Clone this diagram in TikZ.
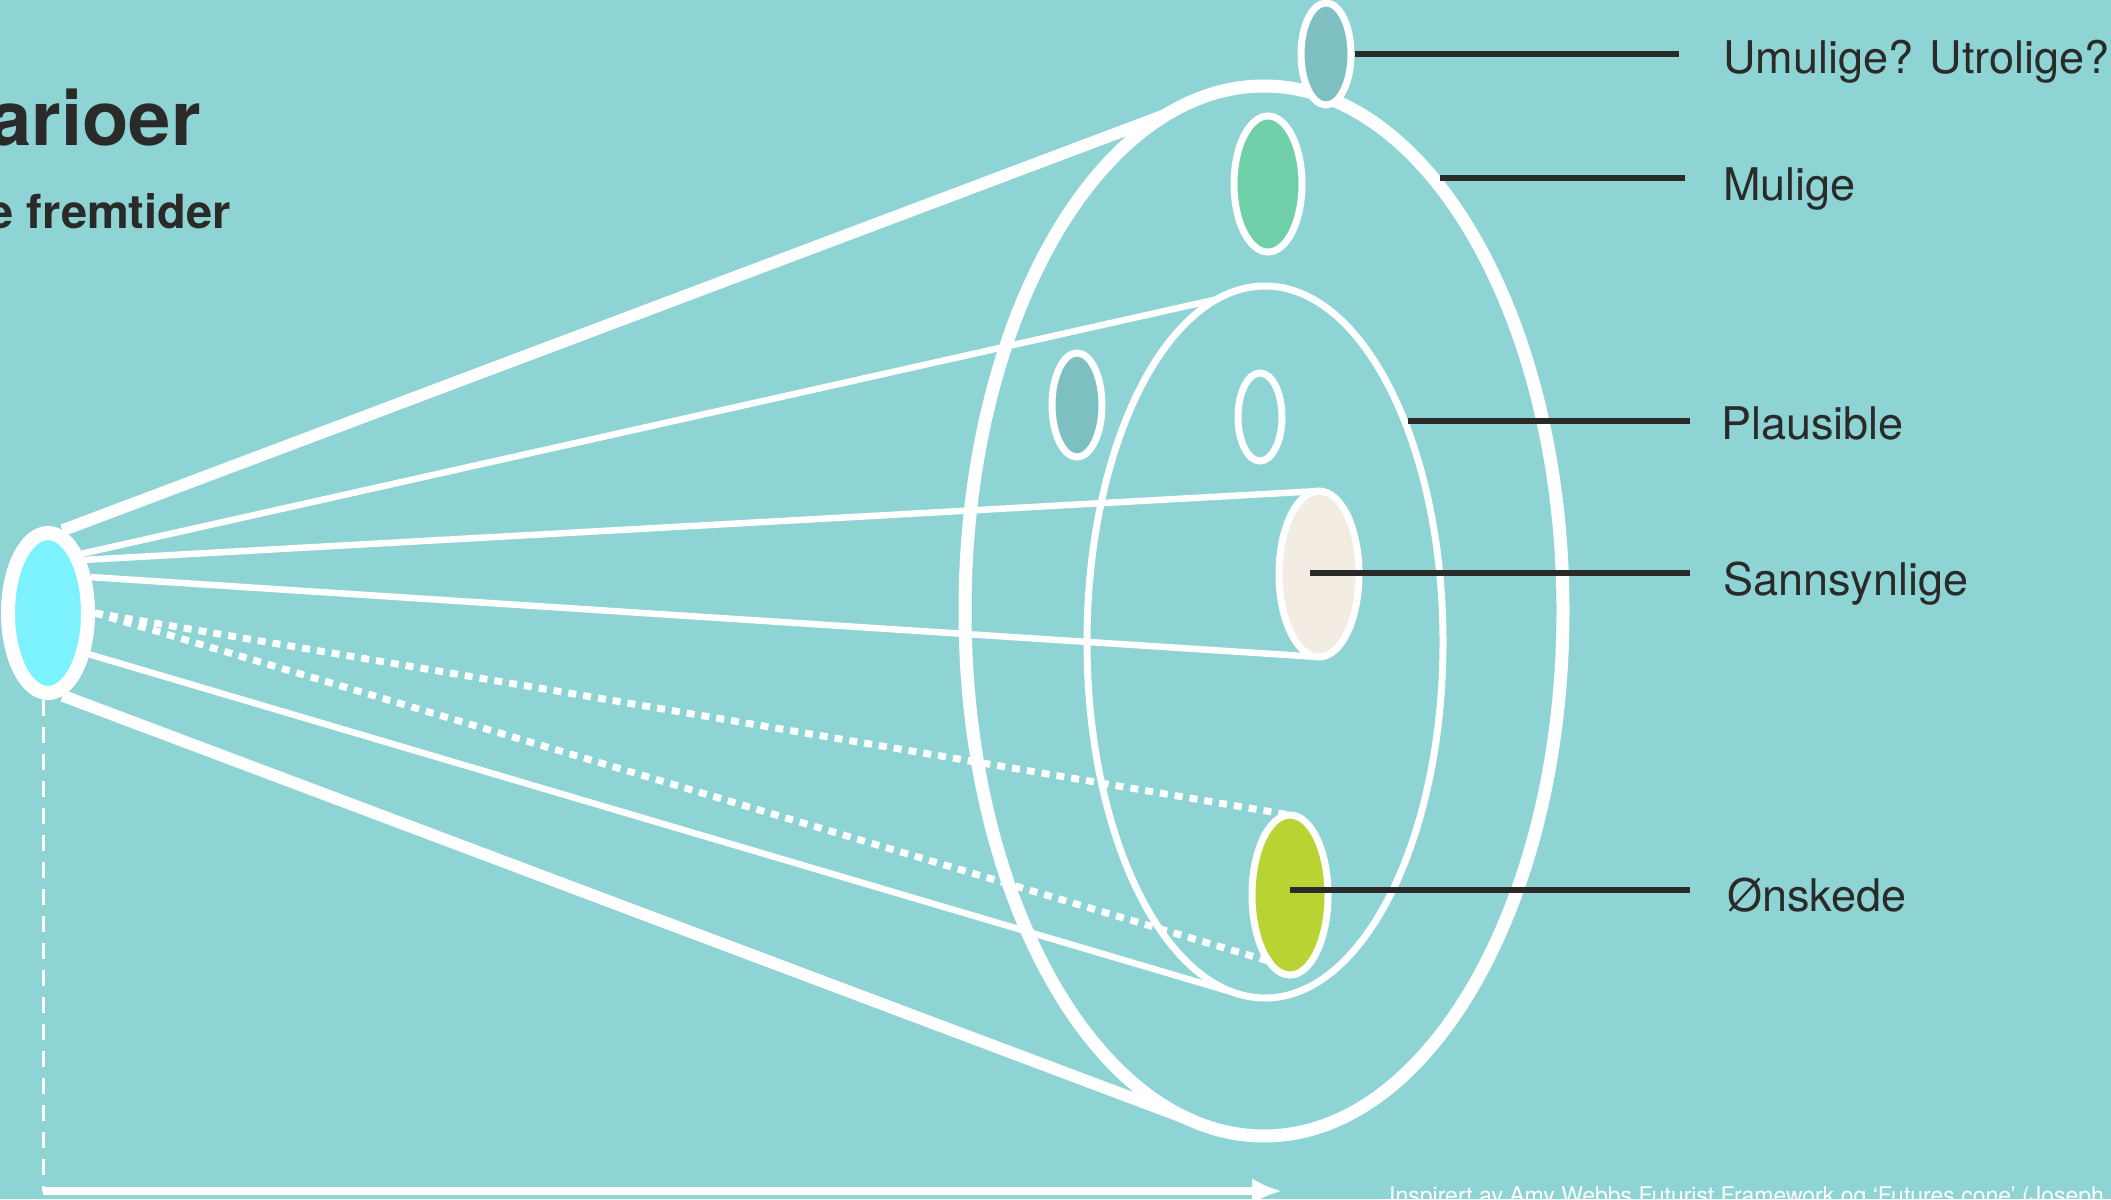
\documentclass[tikz,border=0pt]{standalone}
\usepackage{fontspec}
\setmainfont{TeX Gyre Heros}
\usetikzlibrary{arrows.meta,shapes.geometric,calc}
\definecolor{bgteal}{RGB}{142,212,212}
\definecolor{darkteal}{RGB}{126,192,194}
\definecolor{mintgreen}{RGB}{111,207,168}
\definecolor{srccyan}{RGB}{125,242,255}
\definecolor{cream}{RGB}{243,236,226}
\definecolor{lime}{RGB}{183,212,51}
\definecolor{ink}{RGB}{42,42,40}

\begin{document}
\begin{tikzpicture}[x=1pt,y=-1pt,>=Latex,
 oval/.style={ellipse,draw=white,line width=7pt,inner sep=0pt,outer sep=0pt},
 cone/.style={white,line width=6.5pt},
 thickcone/.style={white,line width=12pt},
 dots/.style={white,line width=7pt,dash pattern=on 8pt off 7pt},
 leader/.style={ink,line width=6pt},
 lbl/.style={anchor=base west,inner sep=0pt,text=ink,font=\fontsize{45}{54}\selectfont},
 heading/.style={anchor=base east,inner sep=0pt,text=ink}]
\fill[bgteal] (0,0) rectangle (2111,1199);
\useasboundingbox (0,0) rectangle (2111,1199);
\clip (0,0) rectangle (2111,1199);

\node[heading,font=\bfseries\fontsize{76}{90}\selectfont] (title) at (201,145) {arioer};
\node[heading,font=\bfseries\fontsize{47}{56}\selectfont] (subtitle) at (231,228) {e fremtider};

\node[oval,line width=13pt,minimum width=598pt,minimum height=1050pt] (outer) at (1264,611) {};
\node[oval,minimum width=356pt,minimum height=712pt] (inner) at (1265,642) {};
\node[oval,fill=darkteal,minimum width=50pt,minimum height=102pt] (umulig) at (1326,54) {};
\node[oval,fill=mintgreen,minimum width=68pt,minimum height=136pt] (mulig) at (1268,184) {};
\node[oval,fill=darkteal,minimum width=50pt,minimum height=104pt] (mulig2) at (1077,405) {};
\node[oval,minimum width=44pt,minimum height=88pt] (plaus) at (1260,417) {};
\node[oval,fill=cream,minimum width=80pt,minimum height=166pt] (sann) at (1319,574) {};
\node[oval,fill=lime,minimum width=76pt,minimum height=160pt] (onsk) at (1290,895) {};
\node[oval,line width=14pt,fill=srccyan,minimum width=80pt,minimum height=160pt,outer sep=7pt] (src) at (48,613) {};

\draw[thickcone] (src.80) -- (outer.101);
\draw[thickcone] (src.-80) -- (outer.-98);
\draw[cone] (src.60) -- (inner.98);
\draw[cone] (src.-45) -- (inner.-94);
\draw[cone] (src.55) -- (sann.north);
\draw[cone] (src.40) -- (sann.south);
\draw[dots] (src.east) -- (onsk.north);
\draw[dots] (src.east) -- (onsk.252);

\coordinate (umulend) at (1679,54);
\coordinate (muligstart) at (1440,178);
\coordinate (muligend) at (1685,178);
\coordinate (plausstart) at (1408,421);
\coordinate (plausend) at (1690,421);
\coordinate (sannend) at (1690,573);
\coordinate (onskend) at (1690,890);
\draw[leader] ([xshift=3.5pt]umulig.east) -- (umulend);
\draw[leader] (muligstart) -- (muligend);
\draw[leader] (plausstart) -- (plausend);
\draw[leader] ([xshift=-9pt]sann.center |- sannend) -- (sannend);
\draw[leader] (onsk.center |- onskend) -- (onskend);

\node[lbl] (umullbl) at (1723,74) {Umulige? Utrolige?};
\node[lbl] (muliglbl) at (1723,200) {Mulige};
\node[lbl] (plauslbl) at (1721,439) {Plausible};
\node[lbl] (sannlbl) at (1723,595) {Sannsynlige};
\node[lbl] (onsklbl) at (1727,911) {Ønskede};

\coordinate (tstart) at (43,1191);
\coordinate (tend) at (1282,1191);
\draw[white,line width=3pt,dash pattern=on 16pt off 11pt] (src.south -| tstart) -- (tstart);
\draw[white,line width=8pt,-{Latex[length=30pt,width=26pt]}] (tstart) -- (tend);

\node[anchor=base west,inner sep=0pt,text=white,font=\fontsize{23}{28}\selectfont] (credit) at (1389,1203) {Inspirert av Amy Webbs Futurist Framework og ‘Futures cone’ (Joseph};
\end{tikzpicture}
\end{document}
